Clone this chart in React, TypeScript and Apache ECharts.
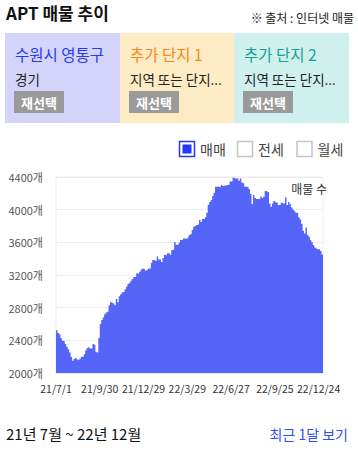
import React, { useEffect, useRef } from "react";
import * as echarts from "echarts";

// Listing counts (3-day buckets), 21/7/1 ~ 22/12/31
const listings2021Q3 = [
  2525, 2490, 2475, 2430, 2395, 2390, 2355, 2320, 2290, 2250,
  2195, 2150, 2170, 2185, 2165, 2160, 2175, 2200, 2200, 2230,
  2280, 2305, 2315, 2300, 2300, 2355, 2345, 2260, 2250, 2430,
];
const listings2021Q4 = [
  2600, 2650, 2680, 2720, 2740, 2750, 2830, 2865, 2860, 2850,
  2830, 2905, 2865, 2940, 2965, 2990, 2995, 3025, 3060, 3089,
  3106, 3130, 3150, 3175, 3175, 3220, 3212, 3240, 3268, 3277,
];
const listings2022Q1 = [
  3275, 3253, 3265, 3281, 3281, 3350, 3383, 3383, 3371, 3428,
  3391, 3391, 3359, 3408, 3448, 3440, 3465, 3465, 3448, 3506,
  3514, 3604, 3571, 3571, 3596, 3628, 3628, 3648, 3648, 3640,
];
const listings2022Q2 = [
  3660, 3689, 3700, 3750, 3787, 3799, 3812, 3820, 3873, 3848,
  3885, 3885, 3906, 3963, 4061, 4093, 4118, 4167, 4207, 4281,
  4281, 4281, 4281, 4301, 4289, 4297, 4297, 4305, 4305, 4346,
];
const listings2022Q3 = [
  4346, 4390, 4383, 4383, 4383, 4355, 4383, 4334, 4322, 4281,
  4281, 4273, 4250, 4191, 4069, 4179, 4142, 4130, 4130, 4130,
  4160, 4142, 4159, 4228, 4220, 4212, 4077, 4036, 4077, 4106,
];
const listings2022Q4 = [
  4095, 4085, 4056, 4056, 4085, 4077, 4077, 4150, 4056, 4093,
  4065, 4028, 4003, 3985, 3963, 3955, 3906, 3881, 3824, 3742,
  3709, 3783, 3689, 3668, 3628, 3600, 3567, 3538, 3526, 3514,
  3514, 3493, 3450,
];

const tickLabels = ["21/7/1", "21/9/30", "21/12/29", "22/3/29", "22/6/27", "22/9/25", "22/12/24"];
const legendItems = ["매매", "전세", "월세"];
const cardTitles = ["수원시 영통구", "추가 단지 1", "추가 단지 2"];
const cardSubtitles = ["경기", "지역 또는 단지...", "지역 또는 단지..."];

const FONT = "'Noto Sans CJK KR', 'Noto Sans', sans-serif";
const BAR = "#5465f7";

export default function App() {
  const ref = useRef<HTMLDivElement>(null);

  useEffect(() => {
    document.body.style.margin = "0";
    if (!ref.current) return;
    const chart = echarts.init(ref.current, undefined, { renderer: "svg" });

    const values = [
      ...listings2021Q3,
      ...listings2021Q4,
      ...listings2022Q1,
      ...listings2022Q2,
      ...listings2022Q3,
      ...listings2022Q4,
    ];
    // step-area: each bucket spans [i, i+1]; closing boundary repeats the last bucket
    const stepData = [...values, values[values.length - 1]];
    const categories = stepData.map((_, i) => String(i));

    const txt = (text: string, x: number, y: number, o: any = {}) => ({
      type: "text",
      x,
      y,
      silent: true,
      style: {
        text,
        fill: o.fill || "#222",
        fontSize: o.fontSize || 12,
        fontWeight: o.fontWeight || "normal",
        fontFamily: FONT,
        align: o.align || "left",
        textAlign: o.align || "left",
        verticalAlign: "middle",
        textVerticalAlign: "middle",
      },
    });

    const cardX = [5, 120, 234];
    const cardW = [115, 114, 115];
    const cardBg = ["#d4d4fa", "#fdebc3", "#d0f0ee"];
    const cardTitleColor = ["#2438f5", "#f7891e", "#17a096"];

    const graphics: any[] = [];
    graphics.push(txt("APT 매물 추이", 6, 12.5, { fontSize: 17, fontWeight: "bold", fill: "#111" }));
    graphics.push(txt("※ 출처 : 인터넷 매물", 354, 17, { fontSize: 12, align: "right", fill: "#222" }));

    cardTitles.forEach((t, i) => {
      graphics.push({
        type: "rect",
        silent: true,
        shape: { x: cardX[i], y: 33, width: cardW[i], height: 90 },
        style: { fill: cardBg[i] },
      });
      graphics.push(txt(t, cardX[i] + 10, 54, { fontSize: 15.5, fill: cardTitleColor[i] }));
      graphics.push(txt(cardSubtitles[i], cardX[i] + 10, 79, { fontSize: 13.5, fill: "#222" }));
      graphics.push({
        type: "rect",
        silent: true,
        shape: { x: cardX[i] + 9, y: 91, width: 50, height: 22 },
        style: { fill: "#9a9a9a" },
      });
      graphics.push(txt("재선택", cardX[i] + 34, 102, { fontSize: 13, fontWeight: "bold", fill: "#fff", align: "center" }));
    });

    const boxX = [179.5, 237.5, 297];
    legendItems.forEach((t, i) => {
      graphics.push({
        type: "rect",
        silent: true,
        shape: { x: boxX[i], y: 141.5, width: 15, height: 15 },
        style: { fill: "#fff", stroke: i === 0 ? "#2438f5" : "#c4c4cc", lineWidth: 1.5 },
      });
      if (i === 0) {
        graphics.push({
          type: "rect",
          silent: true,
          shape: { x: boxX[i] + 3, y: 144.5, width: 9, height: 9 },
          style: { fill: "#2438f5" },
        });
      }
      graphics.push(txt(t, boxX[i] + 20.5, 149, { fontSize: 14, fill: "#444" }));
    });

    graphics.push(txt("매물 수", 327, 188.5, { fontSize: 12, fill: "#333", align: "right" }));
    graphics.push(txt("21년 7월 ~ 22년 12월", 6, 433.5, { fontSize: 15, fill: "#111" }));
    graphics.push(txt("최근 1달 보기", 348, 433.5, { fontSize: 14, fill: "#2f4ff0", align: "right" }));

    chart.setOption({
      animation: false,
      textStyle: { fontFamily: FONT },
      grid: {
        left: 56,
        right: 35,
        top: 177,
        bottom: 78,
        show: true,
        borderColor: "#ececec",
        borderWidth: 1,
        backgroundColor: "transparent",
      },
      xAxis: {
        type: "category",
        data: categories,
        boundaryGap: false,
        axisLine: { show: false },
        axisTick: { show: false },
        axisLabel: {
          interval: 29,
          margin: 10,
          fontSize: 10.5,
          color: "#333",
          fontFamily: FONT,
          formatter: (_v: string, idx: number) => tickLabels[Math.round(idx / 30)] || "",
        },
        splitLine: { show: false },
      },
      yAxis: {
        type: "value",
        min: 2000,
        max: 4400,
        interval: 400,
        axisLine: { show: false },
        axisTick: { show: false },
        axisLabel: {
          margin: 13,
          fontSize: 11,
          color: "#555",
          fontFamily: FONT,
          formatter: (v: number) => `${v}개`,
        },
        splitLine: { lineStyle: { color: "#ececec", width: 1 } },
      },
      series: [
        {
          name: "매매",
          type: "line",
          step: "end",
          data: stepData,
          showSymbol: false,
          symbol: "none",
          lineStyle: { width: 0, color: BAR },
          itemStyle: { color: BAR },
          areaStyle: { color: BAR, opacity: 1 },
          silent: true,
        },
      ],
      graphic: { elements: graphics },
    });

    return () => chart.dispose();
  }, []);

  return <div ref={ref} style={{ width: 358, height: 451 }} />;
}
